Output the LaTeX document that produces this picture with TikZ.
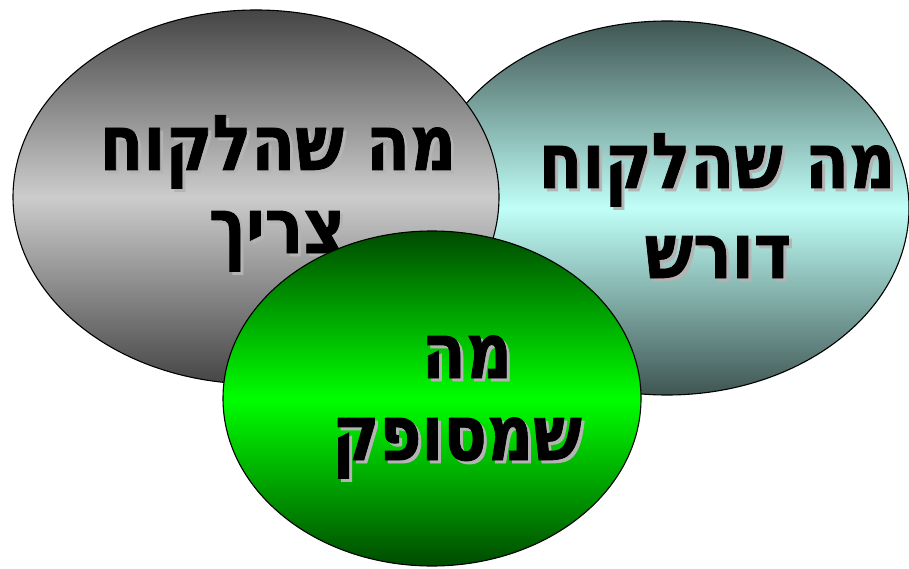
\documentclass[tikz,border=0pt]{standalone}
\usepackage{fontspec}
\newfontfamily\hebfont[Script=Hebrew, BoldFeatures={FakeBold=1.2}]{DejaVu Sans}
\TeXXeTstate=1
\usetikzlibrary{shapes.geometric}
\definecolor{gdark}{HTML}{454545}
\definecolor{glight}{HTML}{CCCCCC}
\definecolor{cdark}{HTML}{3F5552}
\definecolor{clight}{HTML}{C0FFF8}
\definecolor{vdark}{HTML}{004A00}
\definecolor{vlight}{HTML}{00FF00}
\definecolor{shadowgray}{HTML}{B4B4B4}
\tikzset{
  blob/.style={ellipse, draw=black, line width=1.1pt, inner sep=0pt},
  heb/.style={anchor=base, inner sep=0pt, font=\hebfont\bfseries\fontsize{64}{70}\selectfont},
  hebshadow/.style={heb, text=shadowgray},
}
\newcommand{\shtxt}[4]{%
  \node[hebshadow] (#1s) at ([shift={(3pt,-3pt)}]#2,#3) {\scalebox{1}[1.2]{\beginR #4\endR}};
  \node[heb] (#1) at (#2,#3) {\scalebox{1}[1.2]{\beginR #4\endR}};
}
\begin{document}
\begin{tikzpicture}[x=1pt,y=-1pt]
\useasboundingbox (0,0) rectangle (909,569);
% cyan ellipse
\node[blob, minimum width=484pt, minimum height=374pt,
  top color=cdark, bottom color=cdark, middle color=clight] (need2) at (667,208) {};
\shtxt{c1}{717}{188}{מה שהלקוח}
\shtxt{c2}{718}{278}{דורש}
% gray ellipse
\node[blob, minimum width=486pt, minimum height=374pt,
  top color=gdark, bottom color=gdark, middle color=glight] (need1) at (256,197) {};
\shtxt{g1}{278}{170}{מה שהלקוח}
\shtxt{g2}{277}{253}{צריך}
% green ellipse
\node[blob, minimum width=418pt, minimum height=335pt,
  top color=vdark, bottom color=vdark, middle color=vlight] (given) at (432,398.5) {};
\shtxt{v1}{467}{378}{מה}
\shtxt{v2}{457}{460}{שמסופק}
\end{tikzpicture}
\end{document}
